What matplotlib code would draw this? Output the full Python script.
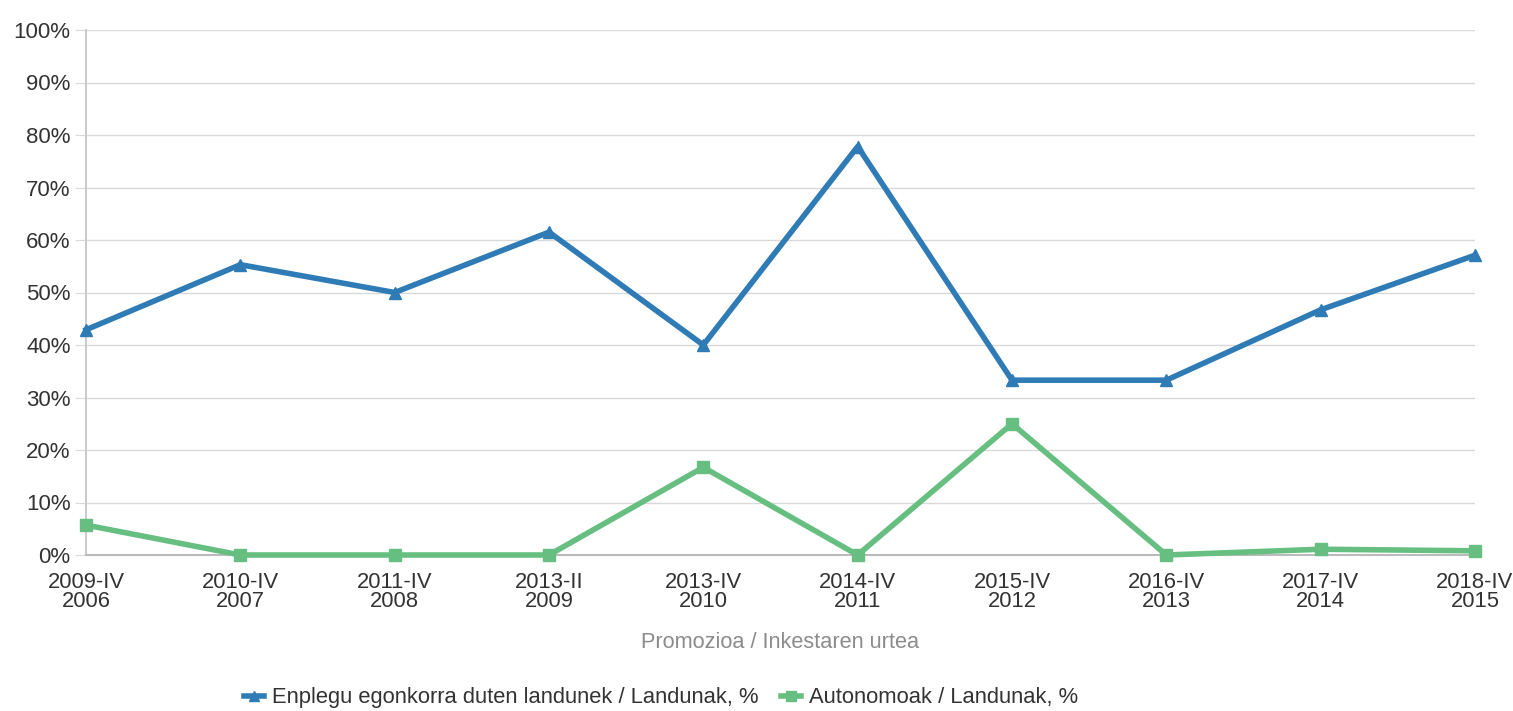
import matplotlib
matplotlib.use("Agg")
import matplotlib.pyplot as plt
from matplotlib.ticker import PercentFormatter

plt.rcParams["font.family"] = ["Liberation Sans", "DejaVu Sans"]

C_BLUE = "#2e7bb6"
C_GREEN = "#66bf80"
C_GRID = "#d9d9d9"
C_TEXT = "#333333"

# ---- data ----
promozioa = ["2009-IV", "2010-IV", "2011-IV", "2013-II", "2013-IV",
             "2014-IV", "2015-IV", "2016-IV", "2017-IV", "2018-IV"]
urtea = ["2006", "2007", "2008", "2009", "2010",
         "2011", "2012", "2013", "2014", "2015"]
egonkorra = [42.9, 55.3, 50.0, 61.5, 40.0, 77.8, 33.3, 33.3, 46.7, 57.1]
autonomoak = [5.7, 0.0, 0.0, 0.0, 16.7, 0.0, 25.0, 0.0, 1.1, 0.8]

labels = [f"{p}\n{u}" for p, u in zip(promozioa, urtea)]
x = list(range(len(labels)))

fig = plt.figure(figsize=(15.13, 7.11), dpi=100)
ax = fig.add_axes([86 / 1513, 1 - 555 / 711, (1475 - 86) / 1513, 525 / 711])

ax.plot(x, egonkorra, color=C_BLUE, lw=4.0, marker="^", ms=9,
        label="Enplegu egonkorra duten landunek / Landunak, %", zorder=4,
        clip_on=False)
ax.plot(x, autonomoak, color=C_GREEN, lw=4.0, marker="s", ms=9,
        label="Autonomoak / Landunak, %", zorder=3, clip_on=False)

ax.set_xlim(0, len(x) - 1)
ax.set_ylim(0, 100)
ax.set_yticks(range(0, 101, 10))
ax.yaxis.set_major_formatter(PercentFormatter(decimals=0))
ax.set_xticks(x)
ax.set_xticklabels(labels, linespacing=0.92)

ax.grid(axis="y", color=C_GRID, lw=1.0)
ax.set_axisbelow(True)
for s in ("top", "right"):
    ax.spines[s].set_visible(False)
ax.spines["left"].set_color("#cccccc")
ax.spines["left"].set_linewidth(1.5)
ax.spines["bottom"].set_color("#bbbbbb")
ax.spines["bottom"].set_linewidth(1.5)

ax.tick_params(axis="y", length=8, color=C_GRID, labelsize=16,
               labelcolor=C_TEXT, pad=3)
ax.tick_params(axis="x", length=0, labelsize=15.8, labelcolor=C_TEXT, pad=12)

ax.set_xlabel("Promozioa / Inkestaren urtea", fontsize=15.7, color="#8c8c8c",
              labelpad=14)

fig.legend(loc="lower center", bbox_to_anchor=(0.437, -0.024), ncol=2,
           frameon=False, fontsize=15.8, handlelength=0.9, handletextpad=0.4,
           columnspacing=1.0, markerscale=0.8, labelcolor=C_TEXT)

fig.savefig("out.png", dpi=100)
